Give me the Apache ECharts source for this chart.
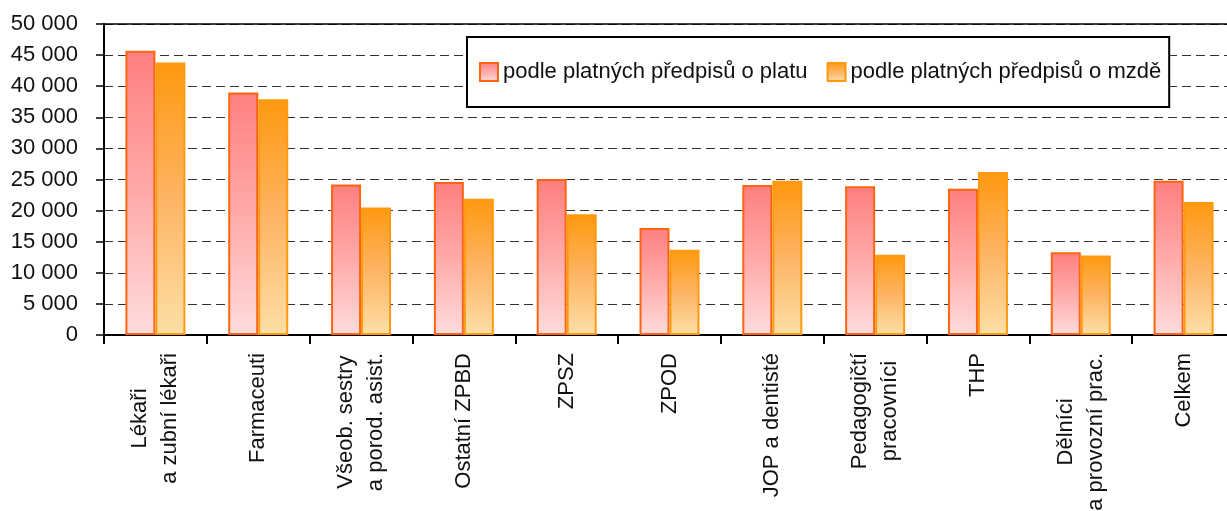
<!DOCTYPE html>
<html>
<head>
<meta charset="utf-8">
<script src="https://cdn.jsdelivr.net/npm/echarts@6/dist/echarts.min.js"></script>
<style>
  html, body { margin: 0; padding: 0; background: #fff; }
  #chart { width: 1227px; height: 511px; }
</style>
</head>
<body>
<div id="chart"></div>
<script>
const categories = [
  'Lékaři\na zubní lékaři',
  'Farmaceuti',
  'Všeob. sestry\na porod. asist.',
  'Ostatní ZPBD',
  'ZPSZ',
  'ZPOD',
  'JOP a dentisté',
  'Pedagogičtí\npracovníci',
  'THP',
  'Dělníci\na provozní prac.',
  'Celkem'
];
const seriesNames = ['podle platných předpisů o platu', 'podle platných předpisů o mzdě'];
const platValues = [45700, 39000, 24200, 24600, 25100, 17200, 24100, 23900, 23500, 13300, 24800];
const mzdaValues = [43800, 37900, 20500, 21900, 19400, 13700, 24800, 12900, 26200, 12800, 21400];
const yTicks = { min: 0, max: 50000, interval: 5000 };

const font = "'Liberation Sans', Arial, sans-serif";
const chart = echarts.init(document.getElementById('chart'));

// cislo s mezerou mezi tisici
function fmt(v) {
  return String(v).replace(/\B(?=(\d{3})+(?!\d))/g, ' ');
}

chart.setOption({
  animation: false,
  textStyle: { fontFamily: font },
  grid: {
    left: 104,
    top: 24,
    bottom: 176,
    right: -8,
    containLabel: false,
    outerBoundsMode: 'none'
  },
  legend: {
    left: 467,
    top: 37,
    padding: [24, 8, 24, 12],
    itemWidth: 18,
    itemHeight: 18,
    itemGap: 19,
    icon: 'rect',
    borderColor: '#000',
    borderWidth: 2,
    backgroundColor: '#fff',
    textStyle: { fontSize: 22, color: '#111', fontFamily: font },
    data: seriesNames
  },
  xAxis: [{
    type: 'category',
    data: categories,
    axisLine: { lineStyle: { color: '#000', width: 2 } },
    axisTick: { show: true, length: 9, lineStyle: { color: '#000', width: 2 } },
    axisLabel: {
      rotate: 90,
      margin: 18,
      interval: 0,
      fontSize: 22,
      color: '#111',
      formatter: function (v) {
        return v.split('\n').map(function (s) { return '{c|' + s + '}'; }).join('\n');
      },
      rich: {
        c: { align: 'center', fontSize: 22, lineHeight: 30, fontFamily: font, color: '#111' }
      }
    }
  }, {
    // horni okraj plochy grafu
    type: 'category',
    position: 'top',
    data: categories,
    axisLine: { lineStyle: { color: '#000', width: 1.5 } },
    axisTick: { show: false },
    axisLabel: { show: false }
  }],
  yAxis: {
    type: 'value',
    min: yTicks.min,
    max: yTicks.max,
    interval: yTicks.interval,
    axisLine: { show: true, lineStyle: { color: '#000', width: 2 } },
    axisTick: { show: true, length: 8, lineStyle: { color: '#000', width: 1.5 } },
    axisLabel: {
      margin: 26,
      fontSize: 22,
      color: '#111',
      formatter: fmt
    },
    splitLine: {
      show: true,
      lineStyle: { color: '#333', width: 1, type: [9, 5] }
    }
  },
  series: [{
    name: seriesNames[0],
    type: 'bar',
    barWidth: 30,
    barGap: '0%',
    data: platValues,
    itemStyle: {
      borderColor: '#FF6410',
      borderWidth: 2,
      color: new echarts.graphic.LinearGradient(0, 0, 0, 1, [
        { offset: 0, color: '#FF7F7F' },
        { offset: 0.5, color: '#FFAAAA' },
        { offset: 1, color: '#FFDCDC' }
      ])
    }
  }, {
    name: seriesNames[1],
    type: 'bar',
    barWidth: 30,
    barGap: '0%',
    data: mzdaValues,
    itemStyle: {
      borderColor: '#FF9A10',
      borderWidth: 2,
      color: new echarts.graphic.LinearGradient(0, 0, 0, 1, [
        { offset: 0, color: '#FF990F' },
        { offset: 0.5, color: '#FDB464' },
        { offset: 1, color: '#FDDFA6' }
      ])
    }
  }]
});
</script>
</body>
</html>
